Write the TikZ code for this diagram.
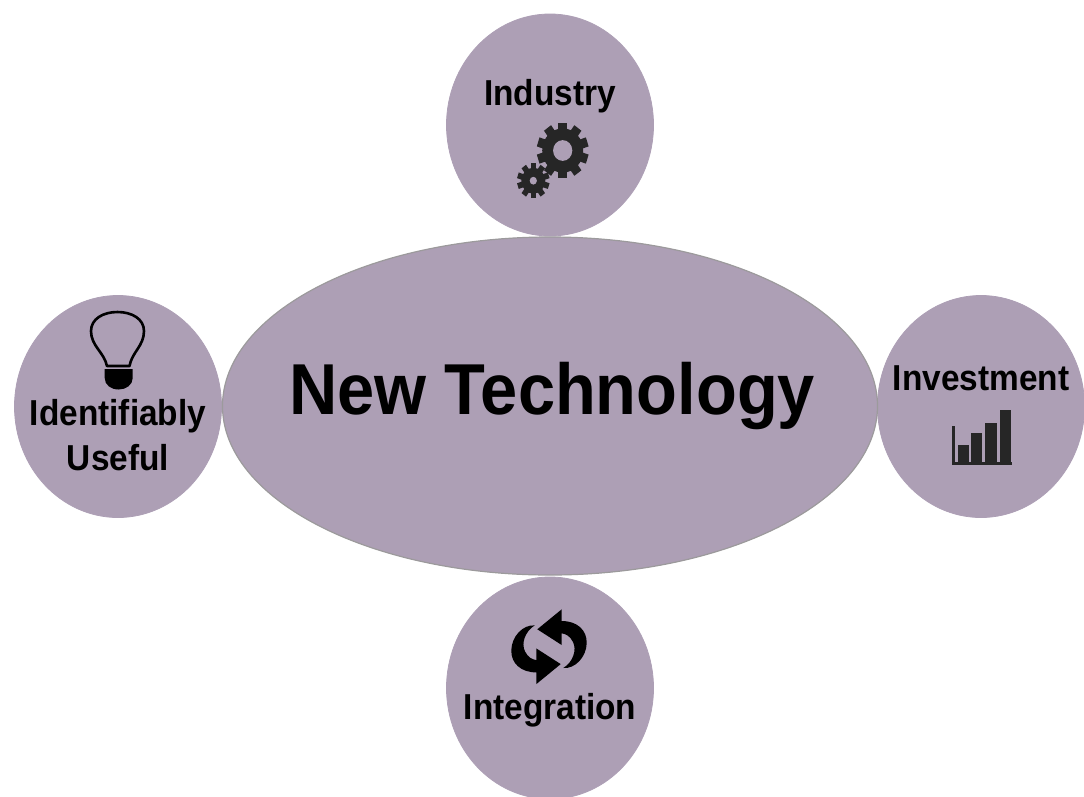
\documentclass[tikz,border=0pt]{standalone}
\usepackage{fontspec}
\setmainfont{Liberation Sans}
\usetikzlibrary{shapes.geometric}
\definecolor{blob}{HTML}{AD9FB5}
\definecolor{blobline}{HTML}{9C9A9C}
\definecolor{ink}{HTML}{262626}
\tikzset{
  x=1pt,y=-1pt,
  blobnode/.style={ellipse,fill=blob,draw=blob,line width=0.8pt,inner sep=0,outer sep=0},
  mainblob/.style={blobnode,draw=blobline,line width=1.2pt,minimum width=655pt,minimum height=338pt},
  sideblob/.style={blobnode,minimum width=207pt,minimum height=222pt},
  label/.style={font=\bfseries\fontsize{33.4}{40}\selectfont,align=center,text=black,inner sep=0},
}
\newcommand{\tall}[1]{\scalebox{1}[1.08]{#1}}
\newcommand{\gearicon}[5]{% x y outer root hole
  \begin{scope}[shift={(#1,#2)},yscale=1.08]
  \fill[ink] (0,0) circle[radius=#4];
  \foreach \a in {0,36,...,324}
    \fill[ink,rotate=\a] (-#3*0.17,-#4*0.5) rectangle (#3*0.17,-#3);
  \fill[blob] (0,0) circle[radius=#5];
  \end{scope}
}
\begin{document}
\begin{tikzpicture}
\useasboundingbox (0,0) rectangle (1084,796);
\clip (0,0) rectangle (1084,796);
\node[sideblob] (top) at (550,125) {};
\node[sideblob] (left) at (118,406.5) {};
\node[sideblob] (right) at (981,406.5) {};
\node[sideblob] (bottom) at (550,688) {};
\node[mainblob] (main) at (550,406) {};
\node[font=\bfseries\fontsize{66.8}{70}\selectfont,inner sep=0] (title) at (552,395.5) {\tall{New Technology}};
\node[label] (industry) at (550,96) {\tall{Industry}};
\node[label] (useful) at (118,416.5) {\tall{Identifiably}};
\node[label] (usefulb) at (118,457.5) {\tall{Useful}};
\node[label] (invest) at (981,378.5) {\tall{Investment}};
\node[label] (integ) at (550,710) {\tall{Integration}};
% gears
\gearicon{562.7}{150.5}{25.8}{20.5}{9.6}
\gearicon{533.3}{180.7}{16.2}{12}{3.6}
% bulb
\draw[black,line width=2.6pt,line join=round]
  (107,366) .. controls (104,352) and (91,346) .. (91,331)
  .. controls (91,319) and (103,312) .. (117.5,312)
  .. controls (132,312) and (144,319) .. (144,331)
  .. controls (144,346) and (132,352) .. (129.5,366) -- cycle;
\fill[black] (104.7,369) -- (132.7,369) -- (132.7,378)
  .. controls (132.7,385) and (126,389.5) .. (118.7,389.5)
  .. controls (111,389.5) and (104.7,385) .. (104.7,378) -- cycle;
% bars
\fill[ink] (951.7,426) rectangle (955,463);
\fill[ink] (951.7,462) rectangle (1012,464.5);
\fill[ink] (957.5,445) rectangle (968.5,463);
\fill[ink] (970.8,433.3) rectangle (982.2,463);
\fill[ink] (985,422.7) rectangle (996.5,463);
\fill[ink] (999.5,410) rectangle (1011,463);
% cycle arrows
\foreach \r in {0,180}
\fill[black,rotate around={\r:(549,646.7)}]
  (537.3,629.3) -- (561.7,609.3) -- (561.7,621)
  .. controls (577,621) and (587,630) .. (586.7,643)
  .. controls (586.5,657) and (575,669) .. (563.3,668)
  .. controls (573,662) and (577,650) .. (573,642)
  .. controls (570,636) and (566,634) .. (561.7,633.3)
  -- (561.7,645) -- cycle;
\end{tikzpicture}
\end{document}
